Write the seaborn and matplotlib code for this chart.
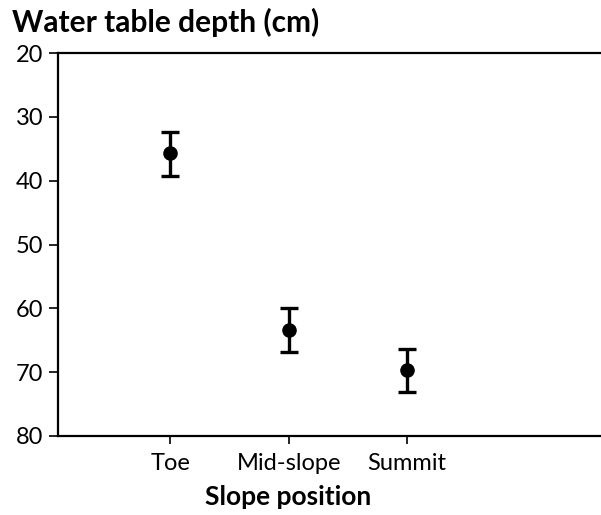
import matplotlib
matplotlib.use("Agg")
import matplotlib.pyplot as plt
import seaborn as sns
import pandas as pd

# 数据：坡位与地下水位深度（cm），均值与误差范围
positions = ["Toe", "Mid-slope", "Summit"]
depth_mean = [35.7, 63.4, 69.7]
depth_low = [32.3, 59.9, 66.3]
depth_high = [39.2, 66.8, 73.1]
y_ticks = [20, 30, 40, 50, 60, 70, 80]

sns.set_theme(style="ticks")
plt.rcParams["font.family"] = ["Lato", "DejaVu Sans"]
plt.rcParams["text.color"] = "black"

df = pd.DataFrame(dict(position=positions, depth=depth_mean))

fig = plt.figure(figsize=(6.01, 5.15), dpi=100)
ax = fig.add_axes([58 / 601, 1 - 436 / 515, 1 - 58 / 601, (436 - 53) / 515])

yerr = [[m - lo for m, lo in zip(depth_mean, depth_low)],
        [hi - m for m, hi in zip(depth_mean, depth_high)]]
ax.errorbar(positions, depth_mean, yerr=yerr, fmt="none", ecolor="black",
            elinewidth=2.4, capsize=6.5, capthick=2.4, zorder=2)
sns.scatterplot(data=df, x="position", y="depth", ax=ax, color="black",
                s=110, edgecolor="black", linewidth=0, zorder=3, legend=False)

ax.set_ylim(80, 20)
ax.set_yticks(y_ticks)
ax.set_xlim(-0.95, 2 + 194 / 118.5)
ax.set_xlabel("")
ax.set_ylabel("")

for side in ["left", "bottom", "top"]:
    ax.spines[side].set_linewidth(1.6)
    ax.spines[side].set_color("black")
ax.spines["right"].set_visible(False)
ax.tick_params(axis="both", length=6.5, width=1.2, labelsize=17,
               colors="black", pad=4)
ax.tick_params(axis="x", length=5.5, pad=7)

fig.text(12 / 601, 1 - 22 / 515, "Water table depth (cm)", fontsize=21.5,
         fontweight="bold", ha="left", va="center", color="black")
fig.text(288 / 601, 1 - 497 / 515, "Slope position", fontsize=19,
         fontweight="bold", ha="center", va="center", color="black")

fig.savefig("out.png", dpi=100)
